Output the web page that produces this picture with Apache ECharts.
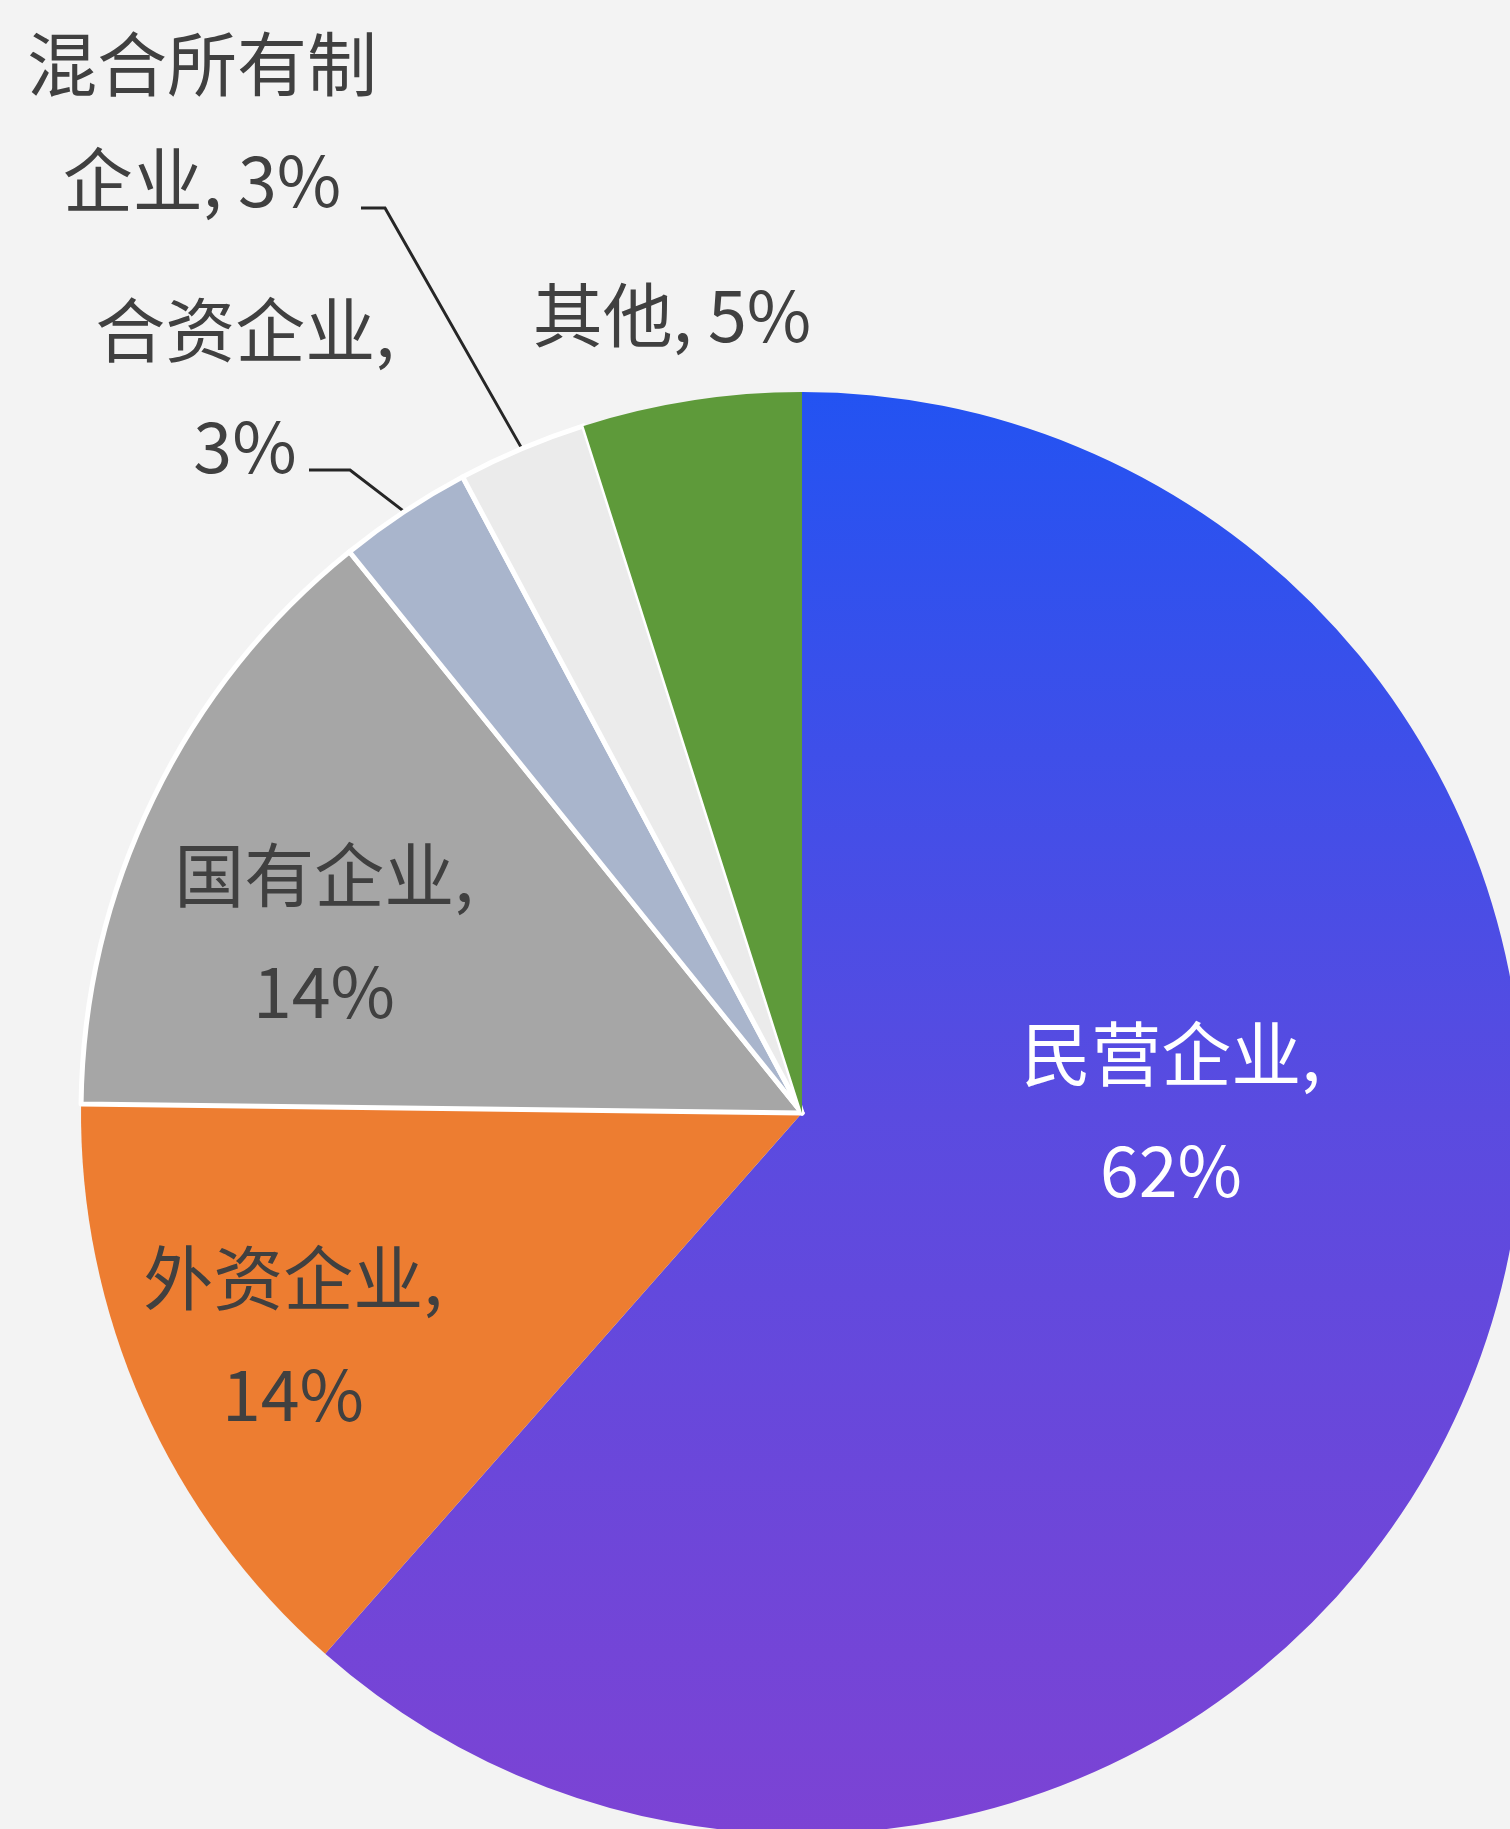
<!DOCTYPE html>
<html>
<head>
<meta charset="utf-8">
<title>企业类型占比</title>
<script src="https://cdn.jsdelivr.net/npm/echarts@6/dist/echarts.min.js"></script>
<style>
  html, body { margin: 0; padding: 0; background: #f3f3f3; }
  #chart_pie { width: 1510px; height: 1829px; }
</style>
</head>
<body>
<div id="chart_pie"></div>
<script>
  // 数据
  const categories = ['民营企业', '外资企业', '国有企业', '合资企业', '混合所有制企业', '其他'];
  const shares = [61.5, 13.7, 14.0, 3.0, 2.9, 4.9];
  // 标签换行后的名称
  const labelNames = ['民营企业,', '外资企业,', '国有企业,', '合资企业,', '混合所有制\n企业,', '其他,'];

  const colors = [
    null, // 渐变, 下面单独设置
    '#ed7d31',
    '#a6a6a6',
    '#a9b5cc',
    '#ebebeb',
    '#5e9a3a'
  ];
  const whiteEdge = [false, false, true, true, true, false];
  const darkText = '#404040';

  // 标签中心位置 (像素) 和引导线折点
  const labelPos = [
    [1171, 1112],
    [293, 1336],
    [324, 933],
    [245, 388],
    [202, 122],
    [672, 315]
  ];
  const guideBends = {
    3: [[350, 470], [309, 470]],
    4: [[385, 208], [361, 208]]
  };

  function labelText(i) {
    const pct = Math.round(shares[i]) + '%';
    const name = labelNames[i];
    if (i === 5 || i === 4) return name + ' ' + pct;
    return name + '\n' + pct;
  }

  function initPieChart() {
    const myChart = echarts.init(document.getElementById('chart_pie'));
    const data = categories.map(function (name, i) {
      return {
        name: name,
        value: shares[i],
        itemStyle: {
          color: i === 0
            ? new echarts.graphic.LinearGradient(0, 0, 0, 1, [
                { offset: 0, color: '#2353f2' },
                { offset: 0.5, color: '#5a4be0' },
                { offset: 1, color: '#7c43d4' }
              ])
            : colors[i],
          borderColor: '#ffffff',
          borderWidth: whiteEdge[i] ? 5 : 0
        },
        label: {
          color: i === 0 ? '#ffffff' : darkText
        },
        labelLine: {
          show: !!guideBends[i]
        }
      };
    });

    const option = {
      backgroundColor: '#f3f3f3',
      animation: false,
      series: [
        {
          type: 'pie',
          center: [802, 1113],
          radius: 721,
          startAngle: 90,
          clockwise: true,
          avoidLabelOverlap: false,
          data: data,
          label: {
            show: true,
            position: 'outside',
            formatter: function (p) { return labelText(p.dataIndex); },
            fontFamily: '"Noto Sans CJK SC", "Noto Sans", sans-serif',
            fontSize: 70,
            lineHeight: 116,
            align: 'center'
          },
          labelLine: {
            show: false,
            lineStyle: { color: '#262626', width: 3 }
          },
          labelLayout: function (params) {
            const i = params.dataIndex;
            const pos = labelPos[i];
            const out = {
              x: pos[0],
              y: pos[1],
              align: 'center',
              verticalAlign: 'middle'
            };
            if (guideBends[i] && params.labelLinePoints) {
              const start = params.labelLinePoints[0];
              out.labelLinePoints = [start, guideBends[i][0], guideBends[i][1]];
            }
            return out;
          }
        }
      ]
    };
    myChart.setOption(option);
  }

  initPieChart();
</script>
</body>
</html>
